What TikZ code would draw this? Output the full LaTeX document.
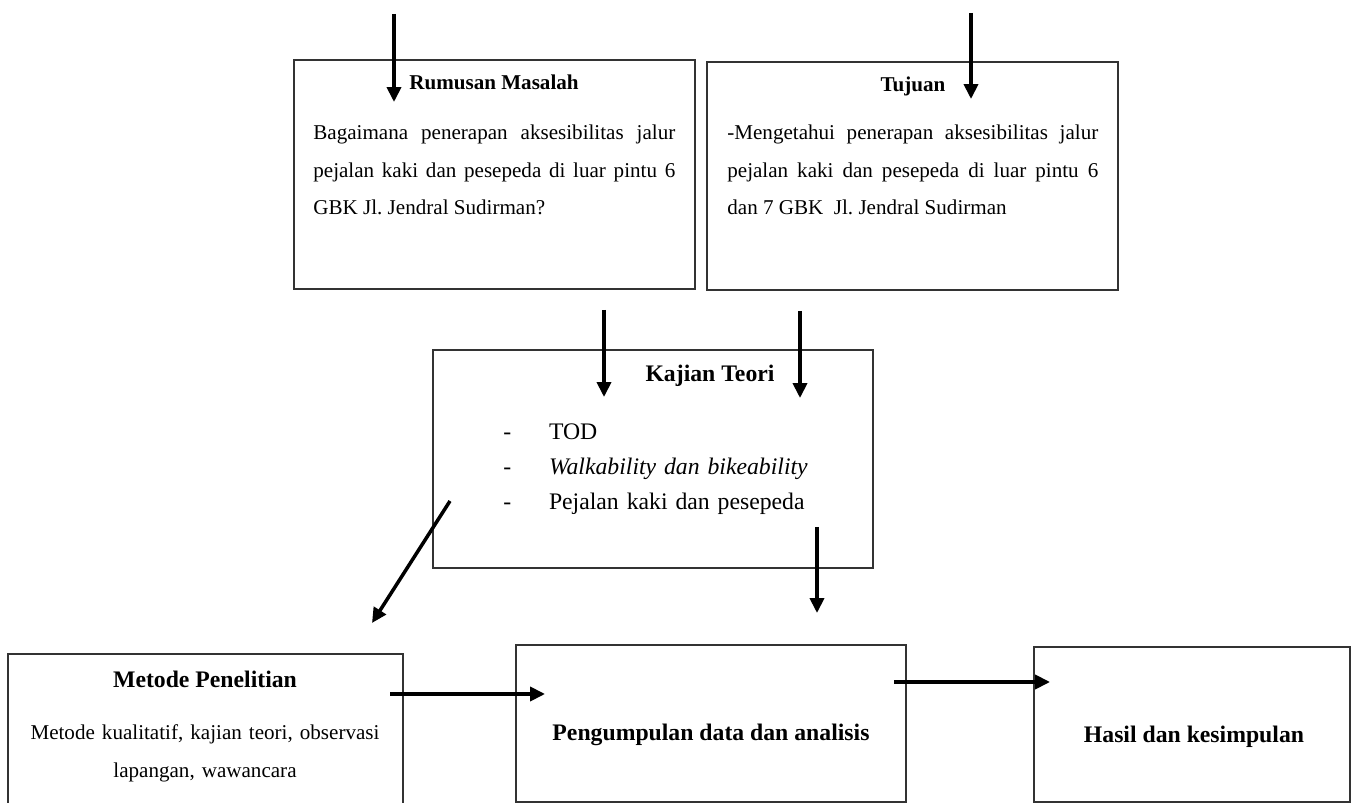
\documentclass[tikz,border=0pt]{standalone}
\usepackage{fontspec}
\setmainfont{Liberation Serif}
\usetikzlibrary{arrows.meta}
\frenchspacing
\hyphenpenalty=10000
\tolerance=10000

\tikzset{
  box/.style={draw=black!80, line width=0.8pt, rectangle, inner sep=0pt},
  title/.style={font=\fontsize{13.5}{16}\selectfont\bfseries, inner sep=0pt, anchor=base},
  body/.style={font=\fontsize{12}{21.3}\selectfont, inner sep=0pt},
  flow/.style={line width=2pt, -{Triangle[length=8.5pt,width=8pt]}}
}

\begin{document}
\begin{tikzpicture}[x=0.02cm, y=-0.02cm]
      \useasboundingbox (0,0) rectangle (1360,803);

      % Boxes
      \node[box, minimum width=8.02cm, minimum height=4.58cm] (masalah) at (494.5,174.5) {};
      \node[box, minimum width=8.22cm, minimum height=4.56cm] (tujuan) at (912.5,176) {};
      \node[box, minimum width=8.8cm, minimum height=4.36cm] (teori) at (653,459) {};
      \node[box, minimum width=7.9cm, minimum height=3.2cm] (metode) at (205.5,734) {};
      \node[box, minimum width=7.8cm, minimum height=3.14cm] (data) at (711,723.5) {};
      \node[box, minimum width=6.32cm, minimum height=3.1cm] (hasil) at (1192,724.5) {};

      % Labels
      \node[title, font=\fontsize{12}{14}\selectfont\bfseries] (masalahT) at (494,90) {Rumusan Masalah};
      \node[body, text width=7.24cm, align=justify, anchor=base west] (masalahB) at (313,140)
        {Bagaimana penerapan aksesibilitas jalur pejalan kaki dan pesepeda di luar pintu 6 GBK Jl. Jendral Sudirman?};
      \node[title, font=\fontsize{12}{14}\selectfont\bfseries] (tujuanT) at (913,92) {Tujuan};
      \node[body, text width=7.42cm, align=justify, anchor=base west] (tujuanB) at (727,140)
        {-Mengetahui penerapan aksesibilitas jalur pejalan kaki dan pesepeda di luar pintu 6\linebreak dan 7 GBK~~Jl. Jendral Sudirman};
      \node[title] (teoriT) at (710,382) {Kajian Teori};
      \node[font=\fontsize{13.5}{19.8}\selectfont, inner sep=0pt, text width=8cm, align=left, anchor=base west] (teoriL) at (503,440)
        {\makebox[26pt][l]{-}TOD\\
         \makebox[26pt][l]{-}\textit{Walkability dan bikeability}\\
         \makebox[26pt][l]{-}Pejalan kaki dan pesepeda};
      \node[title] (metodeT) at (205,688) {Metode Penelitian};
      \node[body, text width=7.8cm, align=center, anchor=base] (metodeB) at (205,740)
        {Metode kualitatif, kajian teori, observasi\\ lapangan, wawancara};
      \node[title] (dataT) at (711,741) {Pengumpulan data dan analisis};
      \node[title] (hasilT) at (1194,743) {Hasil dan kesimpulan};

      % Arrow ends
      \coordinate (masalahIn) at (394,14);
      \coordinate (masalahTip) at (394,102);
      \coordinate (tujuanIn) at (971,13);
      \coordinate (tujuanTip) at (971,99);
      \coordinate (teoriInL) at (604,310);
      \coordinate (teoriTipL) at (604,397);
      \coordinate (teoriInR) at (800,311);
      \coordinate (teoriTipR) at (800,398);
      \coordinate (teoriOutL) at (450,501);
      \coordinate (metodeTip) at (372,623);
      \coordinate (teoriOutR) at (817,527);
      \coordinate (dataTipT) at (817,613);
      \coordinate (metodeOut) at (390,694);
      \coordinate (dataTipL) at (545,694);
      \coordinate (dataOut) at (894,682);
      \coordinate (hasilTip) at (1050,682);

      % Arrows
      \draw[flow] (masalahIn) -- (masalahTip);
      \draw[flow] (tujuanIn) -- (tujuanTip);
      \draw[flow] (teoriInL) -- (teoriTipL);
      \draw[flow] (teoriInR) -- (teoriTipR);
      \draw[flow] (teoriOutL) -- (metodeTip);
      \draw[flow] (teoriOutR) -- (dataTipT);
      \draw[flow] (metodeOut) -- (dataTipL);
      \draw[flow] (dataOut) -- (hasilTip);

    \end{tikzpicture}
\end{document}
